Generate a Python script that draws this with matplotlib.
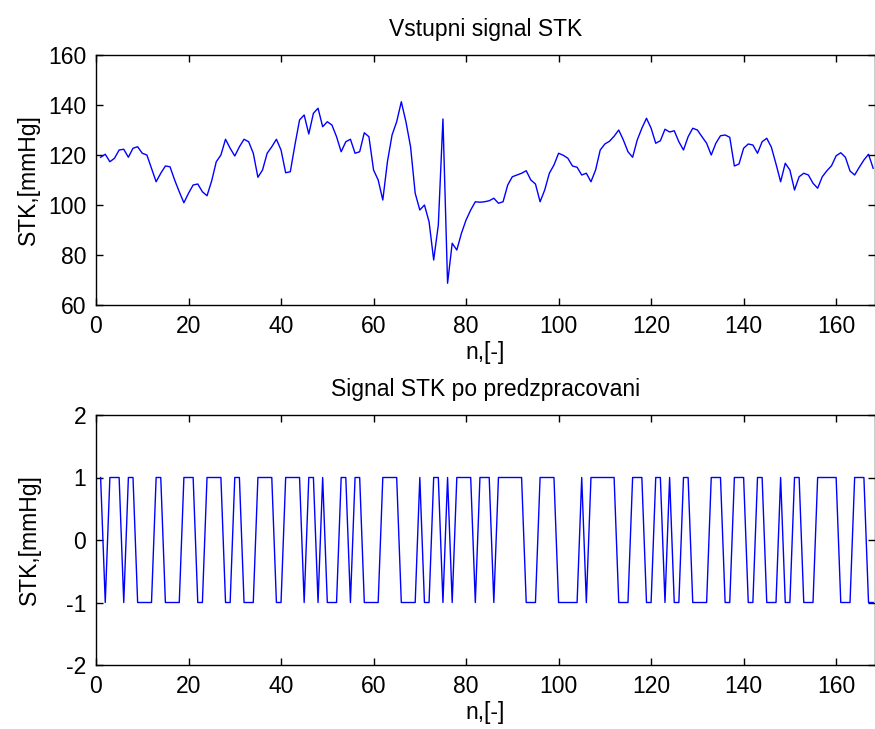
import matplotlib
matplotlib.use('Agg')
from matplotlib import pyplot as plt
import numpy as np

# STK signal, samples n = 1..168
stk = [119.1, 120.3, 117.3, 118.7, 122.0, 122.3, 119.1, 122.7, 123.3, 120.7,
       120.0, 114.7, 109.3, 112.7, 115.6, 115.3, 110.0, 105.3, 100.9, 104.7,
       108.0, 108.4, 105.3, 103.7, 109.6, 117.3, 120.0, 126.3, 122.7, 119.6,
       123.3, 126.3, 125.3, 120.7, 111.1, 114.0, 120.7, 123.3, 126.3, 122.0,
       112.9, 113.3, 124.0, 134.0, 136.0, 128.4, 136.7, 138.7, 131.3, 133.3,
       132.0, 127.3, 121.3, 125.3, 126.3, 120.7, 121.3, 128.9, 127.3, 114.0,
       110.0, 102.0, 117.3, 128.0, 133.3, 141.3, 133.3, 123.3, 104.7, 98.0,
       100.0, 93.3, 78.0, 92.0, 134.4, 68.7, 84.7, 82.0, 88.7, 94.0,
       98.0, 101.3, 101.1, 101.3, 101.7, 102.7, 100.7, 101.3, 108.0, 111.3,
       112.0, 112.7, 113.7, 110.0, 108.4, 101.3, 106.0, 112.7, 116.0, 120.7,
       119.9, 118.7, 115.6, 115.1, 112.0, 112.7, 109.3, 114.0, 122.0, 124.4,
       125.5, 127.5, 130.0, 126.0, 121.3, 119.1, 126.0, 130.7, 134.7, 130.7,
       124.7, 125.7, 130.3, 129.2, 129.7, 125.3, 122.0, 127.3, 130.7, 130.0,
       127.3, 124.7, 120.0, 124.7, 127.7, 128.0, 127.1, 115.6, 116.4, 122.7,
       124.4, 124.0, 120.7, 125.3, 126.7, 123.1, 116.4, 109.3, 116.7, 114.0,
       106.0, 111.3, 112.7, 112.0, 108.7, 106.7, 111.3, 113.7, 115.7, 119.7,
       120.9, 119.1, 113.6, 112.0, 115.1, 118.0, 120.3, 114.7]

# preprocessed signal (+1 / -1)
stk_pre = [1, -1, 1, 1, 1, -1, 1, 1, -1, -1,
           -1, -1, 1, 1, -1, -1, -1, -1, 1, 1,
           1, -1, -1, 1, 1, 1, 1, -1, -1, 1,
           1, -1, -1, -1, 1, 1, 1, 1, -1, -1,
           1, 1, 1, 1, -1, 1, 1, -1, 1, -1,
           -1, -1, 1, 1, -1, 1, 1, -1, -1, -1,
           -1, 1, 1, 1, 1, -1, -1, -1, -1, 1,
           -1, -1, 1, 1, -1, 1, -1, 1, 1, 1,
           1, -1, 1, 1, 1, -1, 1, 1, 1, 1,
           1, 1, -1, -1, -1, 1, 1, 1, 1, -1,
           -1, -1, -1, -1, 1, -1, 1, 1, 1, 1,
           1, 1, -1, -1, -1, 1, 1, 1, -1, -1,
           1, 1, -1, 1, -1, -1, 1, 1, -1, -1,
           -1, -1, 1, 1, 1, -1, -1, 1, 1, 1,
           -1, -1, 1, 1, -1, -1, -1, 1, -1, -1,
           1, 1, -1, -1, -1, 1, 1, 1, 1, 1,
           -1, -1, -1, 1, 1, 1, -1, -1]

n = np.arange(1, len(stk) + 1)

plt.rcParams['font.family'] = ['Liberation Sans', 'DejaVu Sans']
plt.rcParams['font.size'] = 16.5
plt.rcParams['axes.unicode_minus'] = False

fig = plt.figure(figsize=(8.75, 7.29), dpi=100)
ax1 = fig.add_axes([96/875, 1 - 305/729, 779/875, 250/729])
ax2 = fig.add_axes([96/875, 1 - 665/729, 779/875, 250/729])

ax1.plot(n, stk, color='blue', linewidth=1)
ax1.set_ylim(60, 160)
ax1.set_yticks(np.arange(60, 161, 20))
ax1.set_title('Vstupni signal STK', fontsize=16.5, pad=14)
ax1.set_ylabel('STK,[mmHg]', labelpad=6)
ax1.set_xlabel('n,[-]', labelpad=2)

ax2.plot(np.arange(1, len(stk_pre) + 1), stk_pre, color='blue', linewidth=1)
ax2.set_ylim(-2, 2)
ax2.set_yticks([-2, -1, 0, 1, 2])
ax2.set_title('Signal STK po predzpracovani', fontsize=16.5, pad=14)
ax2.set_ylabel('STK,[mmHg]', labelpad=18)
ax2.set_xlabel('n,[-]', labelpad=2)

for ax in (ax1, ax2):
    ax.set_xlim(0, 168.4)
    ax.set_xticks(np.arange(0, 161, 20))
    ax.tick_params(direction='in', top=True, right=True, length=5, width=1,
                   labelsize=16.5, pad=7)
    for s in ax.spines.values():
        s.set_linewidth(1)

fig.savefig('out.png', dpi=100)
